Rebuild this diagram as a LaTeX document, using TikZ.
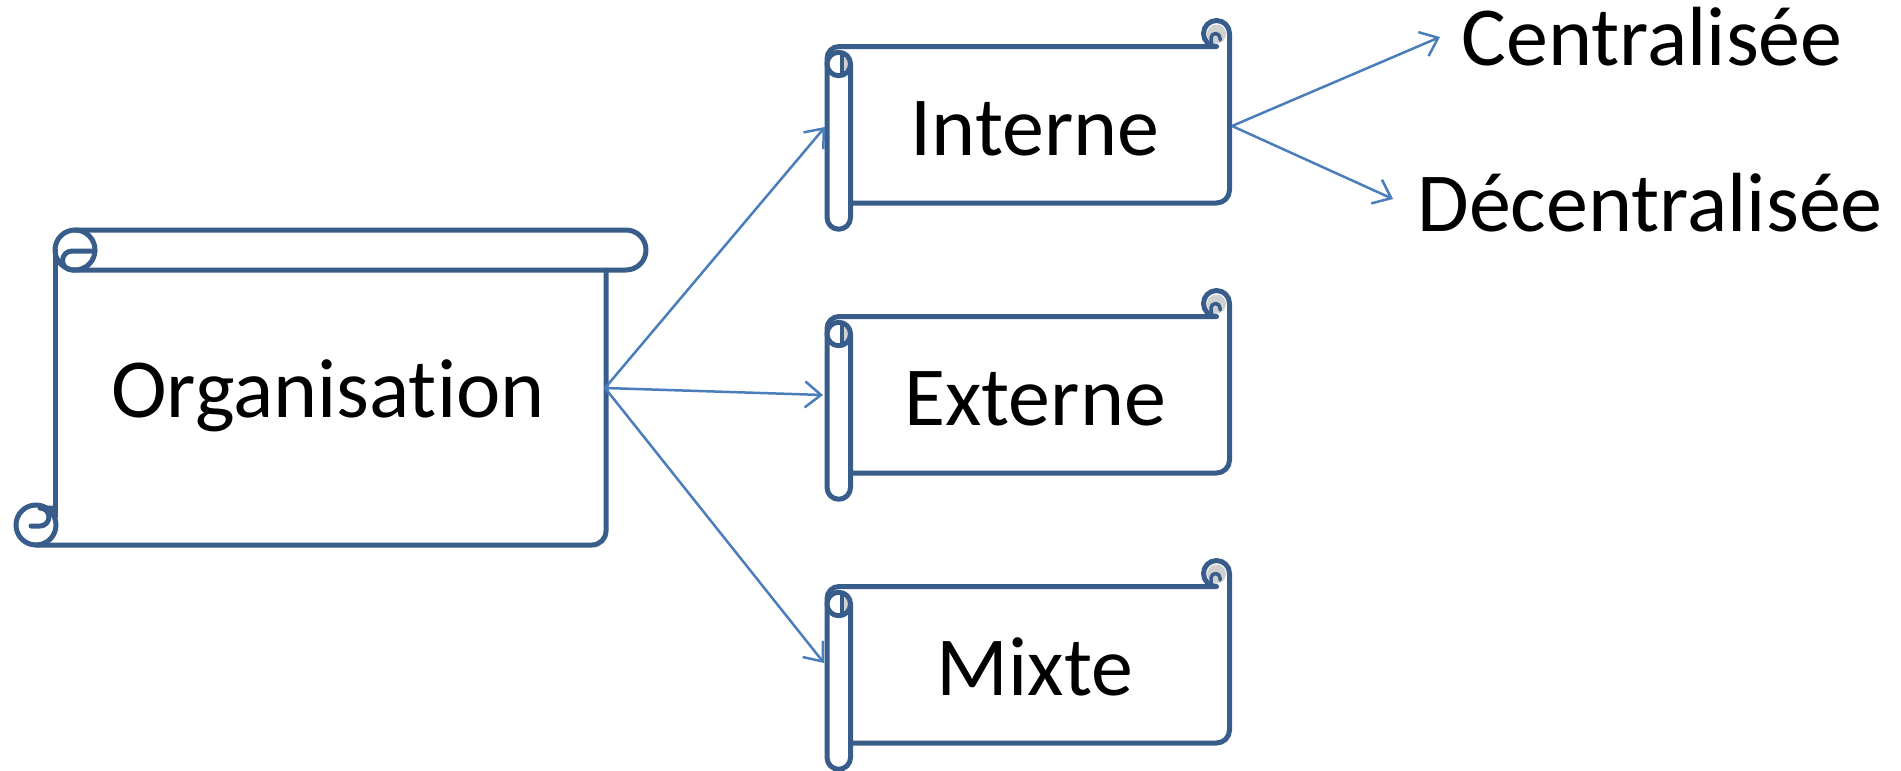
\documentclass[tikz,border=0pt]{standalone}
\usepackage{fontspec}
\setmainfont{Carlito}[Ligatures={NoCommon}]
\usetikzlibrary{arrows.meta}
\definecolor{scrollblue}{HTML}{385D8A}
\definecolor{arrowblue}{HTML}{4A7EBB}
\definecolor{curlgray}{HTML}{D0D0D0}
\tikzset{
  scrollline/.style={draw=scrollblue, line width=5pt, line join=round, line cap=round},
  thinscroll/.style={draw=scrollblue, line width=3.5pt, line join=round, line cap=round},
  linkarrow/.style={draw=arrowblue, line width=2.5pt, -{Straight Barb[length=16pt,width=26pt,line width=2.5pt]}},
  bigtext/.style={font=\fontsize{84}{100}\selectfont, inner sep=0pt, anchor=base, text=black},
}
\newcommand\myvscroll[1]{%
  \begin{scope}[shift={(0,-#1)}]
    \draw[scrollline] (850.5,-203) -- (1216.5,-203) arc[start angle=270,end angle=360,radius=13]
      -- (1229.5,-33.5) arc[start angle=0,end angle=270,radius=13]
      -- (839,-46.5) arc[start angle=90,end angle=180,radius=12]
      -- (827,-217.5) arc[start angle=180,end angle=360,radius=11.75]
      -- (850.5,-64);
    % top-right curl interior
    \fill[curlgray] (1216.5,-34) circle[radius=9.5];
    \draw[thinscroll] (1211,-45) -- (1211,-38) arc[start angle=180,end angle=0,radius=4.5] -- (1220,-40);
    % left roll top
    \fill[white] (838.75,-64) circle[radius=11];
    \fill[curlgray] (842,-57) arc[start angle=90,end angle=-90,radius=7] -- cycle;
    \draw[scrollline] (838.75,-64) circle[radius=11.75];
    \draw[thinscroll] (842,-55) -- (842,-74);
  \end{scope}}
\begin{document}
\begin{tikzpicture}[x=1pt,y=1pt]
  \fill[white] (0,0) rectangle (1901,-771);
  \useasboundingbox (0,0) rectangle (1901,-771);

  % Organisation (horizontal scroll)
  \draw[scrollline] (55,-250) -- (55,-517);
  \draw[scrollline] (36,-545) -- (592,-545) arc[start angle=270,end angle=360,radius=14] -- (606,-270);
  \draw[scrollline] (95,-251) -- (72,-251) arc[start angle=90,end angle=270,radius=9.5]
    -- (626,-270) arc[start angle=-90,end angle=90,radius=20] -- (75,-230);
  \draw[scrollline] (75,-250) circle[radius=20];
  \draw[scrollline] (36,-525) circle[radius=20];
  \draw[scrollline] (31,-526) -- (40,-526) arc[start angle=-90,end angle=90,radius=9] -- (55,-508);

  % vertical scrolls
  \myvscroll{0}
  \myvscroll{270}
  \myvscroll{540}

  % texts
  \node[bigtext] (org) at (328,-417) {Organisation};
  \node[bigtext] (int) at (1035,-155) {Interne};
  \node[bigtext] (ext) at (1035,-425) {Externe};
  \node[bigtext] (mix) at (1035,-695) {Mixte};
  \node[bigtext] (cen) at (1652,-65) {Centralisée};
  \node[bigtext] (dec) at (1650,-231) {Décentralisée};

  % connector ends
  \coordinate (orgE) at (605,-388);
  \coordinate (intW) at (825,-127);
  \coordinate (extW) at (823,-395);
  \coordinate (mixW) at (824,-663);
  \coordinate (intE) at (1232,-126);
  \coordinate (cenW) at (1440,-37);
  \coordinate (decW) at (1393,-199);

  \draw[linkarrow] (orgE) -- (intW);
  \draw[linkarrow] (orgE) -- (extW);
  \draw[linkarrow] (orgE) -- (mixW);
  \draw[linkarrow] (intE) -- (cenW);
  \draw[linkarrow] (intE) -- (decW);
\end{tikzpicture}
\end{document}
